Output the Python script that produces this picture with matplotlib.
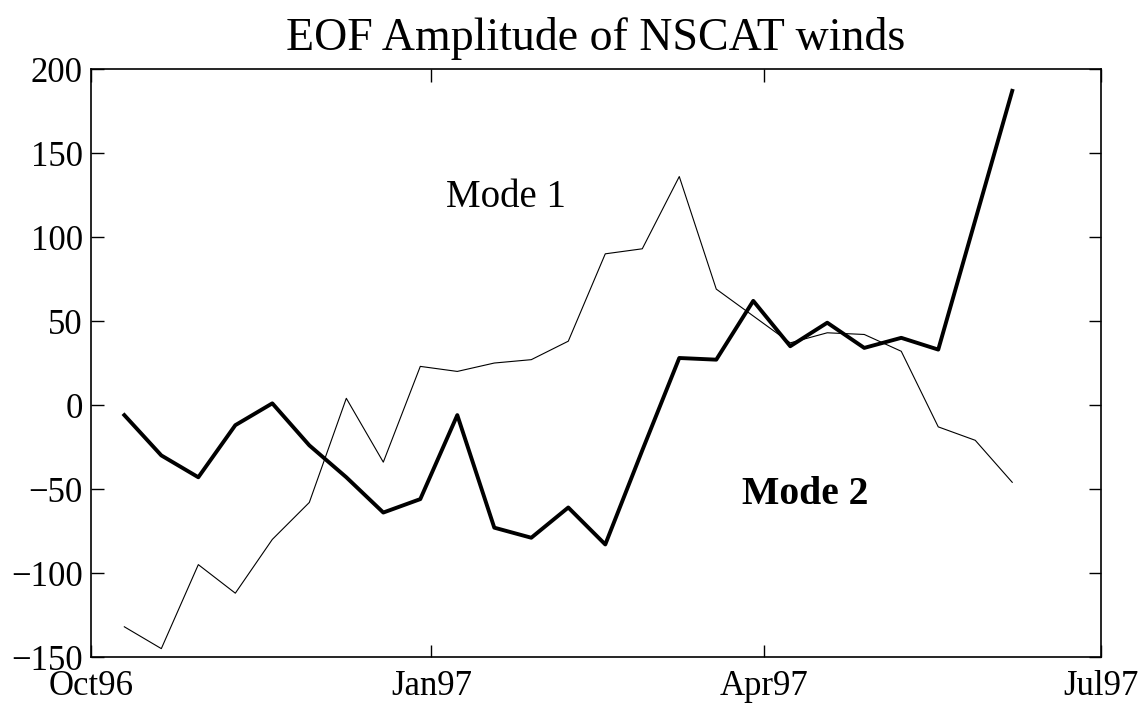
import numpy as np
import pandas as pd
import matplotlib
matplotlib.use("Agg")
import matplotlib.pyplot as plt

plt.rcParams['font.family'] = ['Liberation Serif', 'DejaVu Serif']

# ---- data ----
dates = pd.date_range("1996-10-10", periods=25, freq="10D")
mode1 = [-132, -145, -95, -112, -80, -58, 4, -34, 23, 20, 25, 27, 38,
         90, 93, 136, 69, 53, 37, 43, 42, 32, -13, -21, -46]
mode2 = [-6, -30, -43, -12, 1, -24, -43, -64, -56, -6, -73, -79, -61,
         -83, -27, 28, 27, 62, 35, 49, 34, 40, 33, 110, 187]
tick_dates = ["1996-10-01", "1997-01-01", "1997-04-01", "1997-07-01"]
tick_labels = ["Oct96", "Jan97", "Apr97", "Jul97"]
yticks = [-150, -100, -50, 0, 50, 100, 150, 200]

fig = plt.figure(figsize=(11.45, 7.08), dpi=100)
ax = fig.add_axes([0.0795, 0.072, 0.8821, 0.8305])

ax.plot(dates, mode1, color='black', lw=0.8)
ax.plot(dates, mode2, color='black', lw=2.8)

tk = [pd.Timestamp(d) for d in tick_dates]
ax.set_xlim(tk[0], tk[-1])
ax.set_ylim(-150, 200)
ax.set_xticks(tk)
ax.set_xticklabels(tick_labels)
ax.set_yticks(yticks)
ax.set_yticklabels([str(v).replace('-', '\u2212') for v in yticks])

ax.tick_params(direction='in', length=9, width=1, labelsize=25,
               top=True, right=True)
ax.tick_params(axis='x', pad=9.5)
ax.tick_params(axis='y', pad=6)
for s in ax.spines.values():
    s.set_linewidth(1.2)

ax.text(pd.Timestamp("1997-01-05"), 118, "Mode 1", fontsize=28,
        ha='left', va='baseline')
ax.text(pd.Timestamp("1997-03-26"), -59, "Mode 2", fontsize=28.5,
        fontweight='bold', ha='left', va='baseline')

ax.set_title("EOF Amplitude of NSCAT winds", fontsize=33, pad=14)

fig.savefig("out.png", dpi=100)
